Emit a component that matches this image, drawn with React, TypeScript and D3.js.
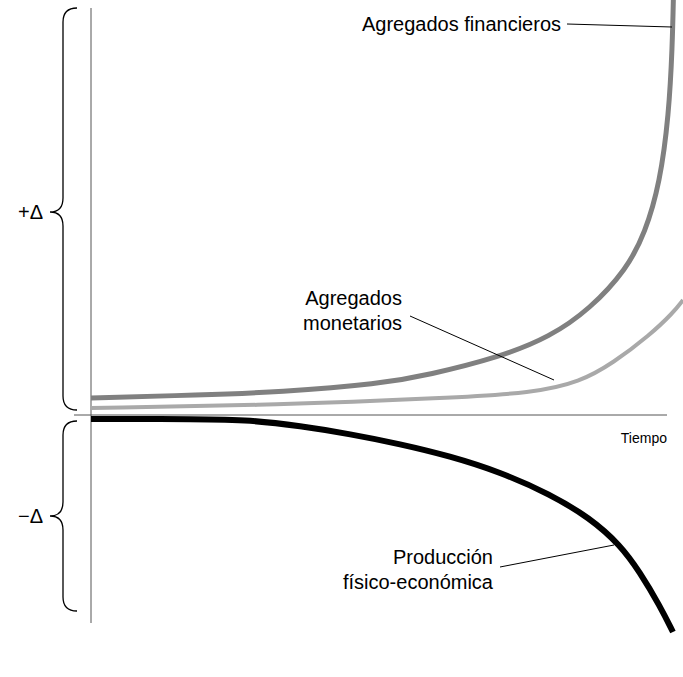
import * as d3 from "d3";
import React, { useEffect, useRef } from "react";

const width = 683;
const height = 677;

// tiempo (0..100) y variación relativa (unidades arbitrarias)
const financieros: Array<[number, number]> = [
    [0, 4.25], [18.4, 5], [31.9, 5.75], [48.8, 7.75], [57, 10], [69.1, 14.5],
    [77.5, 19.5], [84.3, 26.5], [90.5, 36.5], [93.6, 45.5], [96.1, 58],
    [97.6, 75], [98.2, 92], [98.4, 106],
];
const monetarios: Array<[number, number]> = [
    [0, 1.75], [31.9, 2.5], [60.1, 4.25], [74.7, 5.5], [82.6, 8.25],
    [88.2, 13], [94.4, 20], [98.3, 25.5], [100, 28.75],
];
const produccion: Array<[number, number]> = [
    [0, -1], [18.4, -1], [26.9, -1.25], [35.3, -2.75], [43.8, -4.75], [52.2, -7.25],
    [60.6, -10.25], [69.1, -14.25], [77.5, -19.75], [84.3, -25.75], [89.4, -32.5],
    [92.7, -39.25], [96.1, -47.75], [98.3, -54.25],
];

const labelFin = ["Agregados financieros"];
const labelMon = ["Agregados", "monetarios"];
const labelProd = ["Producción", "físico-económica"];

const font = "'Liberation Sans', Arial, Helvetica, sans-serif";

const App: React.FC = () => {
    const ref = useRef<SVGSVGElement>(null);

    useEffect(() => {
        if (!ref.current) return;
        const svg = d3.select(ref.current);
        svg.selectAll("*").remove();

        const x = d3.scaleLinear().domain([0, 100]).range([91, 683]);
        const y = d3.scaleLinear().domain([-52, 103.75]).range([623, 0]);

        const smooth = d3.line<[number, number]>()
            .x((d) => x(d[0]))
            .y((d) => y(d[1]))
            .curve(d3.curveBasis);

        // ejes
        svg.append("line")
            .attr("x1", x(0)).attr("x2", x(0))
            .attr("y1", 8).attr("y2", 623)
            .attr("stroke", "#555").attr("stroke-width", 1);
        svg.append("line")
            .attr("x1", 74).attr("x2", 667)
            .attr("y1", y(0)).attr("y2", y(0))
            .attr("stroke", "#555").attr("stroke-width", 1);

        // llaves
        const brace = (xr: number, yt: number, yb: number, ym: number) => {
            const xv = xr - 14;
            const xt = xv - 13;
            const r = 14;
            return `M${xr},${yt} Q${xv},${yt} ${xv},${yt + r} L${xv},${ym - r} ` +
                `Q${xv},${ym} ${xt},${ym} Q${xv},${ym} ${xv},${ym + r} ` +
                `L${xv},${yb - r} Q${xv},${yb} ${xr},${yb}`;
        };
        svg.append("path")
            .attr("d", brace(77, 8, 410, 212))
            .attr("fill", "none").attr("stroke", "#000").attr("stroke-width", 1.3);
        svg.append("path")
            .attr("d", brace(77, 421, 611, 516))
            .attr("fill", "none").attr("stroke", "#000").attr("stroke-width", 1.3);

        svg.append("text")
            .attr("x", 43).attr("y", 219)
            .attr("text-anchor", "end")
            .style("font-family", font).style("font-size", "20px")
            .text("+Δ");
        svg.append("text")
            .attr("x", 43).attr("y", 523)
            .attr("text-anchor", "end")
            .style("font-family", font).style("font-size", "20px")
            .text("−Δ");

        // curvas
        svg.append("path")
            .attr("d", smooth(monetarios))
            .attr("fill", "none").attr("stroke", "#a9a9a9").attr("stroke-width", 4);
        svg.append("path")
            .attr("d", smooth(financieros))
            .attr("fill", "none").attr("stroke", "#808080").attr("stroke-width", 5);
        svg.append("path")
            .attr("d", smooth(produccion))
            .attr("fill", "none").attr("stroke", "#000").attr("stroke-width", 6);

        // líneas guía
        const guides = [
            [567, 24, 672, 27],
            [410, 316, 554, 380],
            [500, 567, 614, 545],
        ];
        svg.selectAll(null)
            .data(guides)
            .enter()
            .append("line")
            .attr("x1", (d) => d[0]).attr("y1", (d) => d[1])
            .attr("x2", (d) => d[2]).attr("y2", (d) => d[3])
            .attr("stroke", "#000").attr("stroke-width", 1);

        const addLabel = (lines: string[], xEnd: number, y0: number) => {
            svg.append("g")
                .selectAll(null)
                .data(lines)
                .enter()
                .append("text")
                .attr("x", xEnd)
                .attr("y", (_, i) => y0 + i * 25)
                .attr("text-anchor", "end")
                .style("font-family", font).style("font-size", "20px")
                .text((d) => d);
        };
        addLabel(labelFin, 561, 31);
        addLabel(labelMon, 402, 305);
        addLabel(labelProd, 493, 564);

        svg.append("text")
            .attr("x", 667).attr("y", 443)
            .attr("text-anchor", "end")
            .style("font-family", font).style("font-size", "14px")
            .text("Tiempo");
    }, []);

    return (
        <svg
            ref={ref}
            width={width}
            height={height}
            style={{ position: "absolute", left: 0, top: 0, background: "#fff" }}
        />
    );
};

export default App;
